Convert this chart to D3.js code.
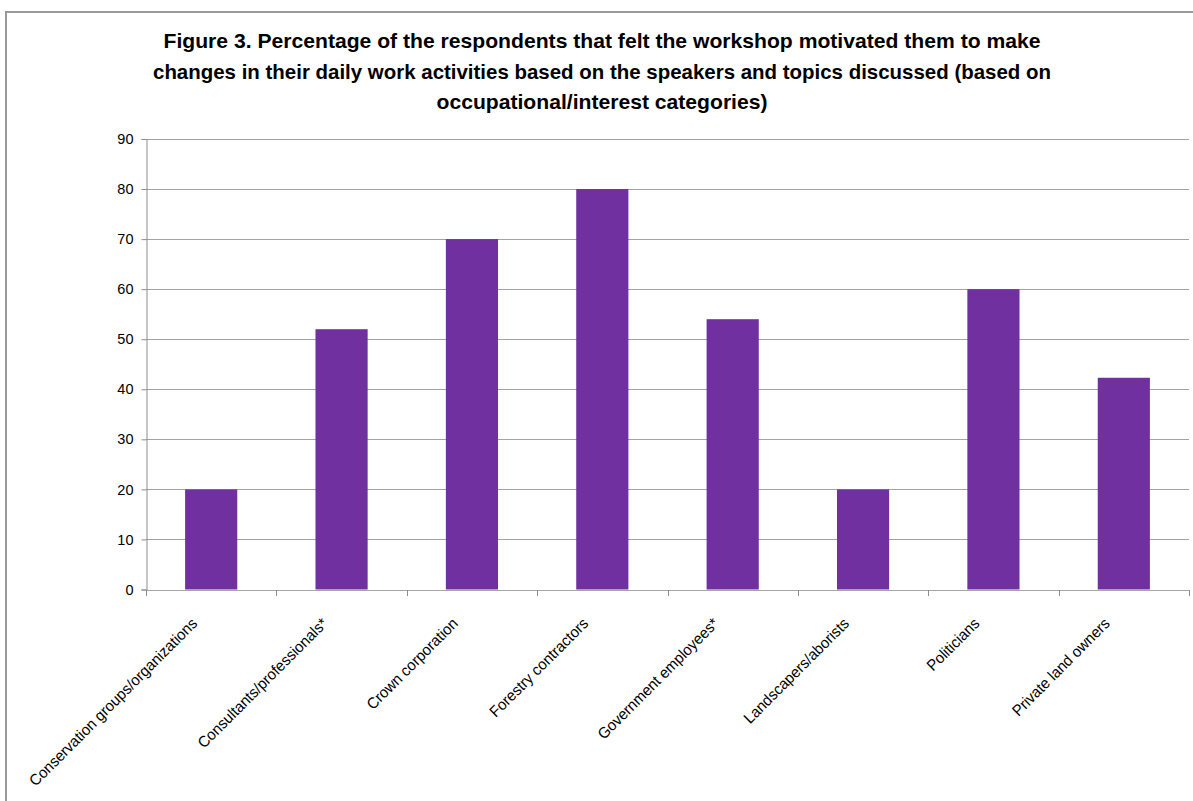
<!DOCTYPE html>
<html>
<head>
<meta charset="utf-8">
<script src="https://cdn.jsdelivr.net/npm/d3@7"></script>
<style>
  html, body { margin: 0; padding: 0; background: #fff; }
  svg { display: block; }
</style>
</head>
<body>
<svg id="chart" width="1193" height="801"></svg>
<script>
// Occupational / interest categories and the share (%) of respondents in each
const categories = [
  "Conservation groups/organizations",
  "Consultants/professionals*",
  "Crown corporation",
  "Forestry contractors",
  "Government employees*",
  "Landscapers/aborists",
  "Politicians",
  "Private land owners"
];
const percentages = [20, 52, 70, 80, 54, 20, 60, 42.3];
const yTicks = [0, 10, 20, 30, 40, 50, 60, 70, 80, 90];
const titleLines = [
  "Figure 3. Percentage of the respondents that felt the workshop motivated them to make",
  "changes in their daily work activities based on the speakers and topics discussed (based on",
  "occupational/interest categories)"
];

const W = 1193, H = 801;
const plot = { left: 146, right: 1189, top: 139, bottom: 589.5 };
const FONT = "'Liberation Sans', Arial, sans-serif";
const NARROW = 0.96; // condense glyphs a little for a Calibri-like width

const svg = d3.select("#chart");

// chart frame (top and left edges visible)
svg.append("path")
  .attr("d", `M6,${H} L6,12 L${W},12`)
  .attr("fill", "none")
  .attr("stroke", "#9a9a9a")
  .attr("stroke-width", 2);

// title: three centred bold lines, condensed to a Calibri-like width
const title = svg.append("g");
const titleY = [48, 79, 109];
const titleWidths = [877, 898, 331];
titleLines.forEach((t, i) => title.append("text")
  .attr("x", 602)
  .attr("y", titleY[i])
  .attr("text-anchor", "middle")
  .attr("font-family", FONT)
  .attr("font-weight", "bold")
  .attr("font-size", 21)
  .attr("fill", "#000")
  .attr("textLength", titleWidths[i])
  .attr("lengthAdjust", "spacingAndGlyphs")
  .text(t));

const x = d3.scaleBand()
  .domain(categories)
  .range([plot.left, plot.right])
  .paddingInner(0.6)
  .paddingOuter(0.3);

const y = d3.scaleLinear()
  .domain([0, 90])
  .range([plot.bottom, plot.top]);

// horizontal gridlines
svg.append("g")
  .selectAll("line")
  .data(yTicks.filter(d => d > 0))
  .join("line")
  .attr("x1", plot.left)
  .attr("x2", plot.right)
  .attr("y1", d => Math.round(y(d)) + 0.5)
  .attr("y2", d => Math.round(y(d)) + 0.5)
  .attr("stroke", "#a3a3a3")
  .attr("stroke-width", 1);

// bars
svg.append("g")
  .selectAll("rect")
  .data(categories.map((c, i) => ({ c, v: percentages[i] })))
  .join("rect")
  .attr("x", d => x(d.c))
  .attr("width", x.bandwidth())
  .attr("y", d => y(d.v))
  .attr("height", d => y(0) - y(d.v))
  .attr("fill", "#7030A0");

// y axis
const yAxis = svg.append("g")
  .attr("transform", `translate(${plot.left + 0.5},0)`)
  .call(d3.axisLeft(y).tickValues(yTicks).tickSize(5).tickPadding(8).tickFormat(d3.format("d")));
yAxis.select(".domain").attr("stroke", "#8c8c8c");
yAxis.selectAll(".tick line").attr("stroke", "#8c8c8c");
yAxis.selectAll(".tick text")
  .attr("font-family", FONT)
  .attr("font-size", 14.5)
  .attr("fill", "#000");

// x axis: baseline with tick marks at the category boundaries
const step = x.step();
const bounds = d3.range(categories.length + 1).map(i => plot.left + i * step);
const xAxis = svg.append("g");
xAxis.append("line")
  .attr("x1", plot.left)
  .attr("x2", plot.right)
  .attr("y1", Math.round(plot.bottom) + 0.5)
  .attr("y2", Math.round(plot.bottom) + 0.5)
  .attr("stroke", "#a6a6a6");
xAxis.selectAll("line.tick")
  .data(bounds)
  .join("line")
  .attr("class", "tick")
  .attr("x1", d => Math.round(d) + 0.5)
  .attr("x2", d => Math.round(d) + 0.5)
  .attr("y1", Math.round(plot.bottom))
  .attr("y2", Math.round(plot.bottom) + 6)
  .attr("stroke", "#8c8c8c");

// rotated category labels
xAxis.selectAll("text.cat")
  .data(categories)
  .join("text")
  .attr("class", "cat")
  .attr("font-family", FONT)
  .attr("font-size", 15.5)
  .attr("fill", "#000")
  .attr("text-anchor", "end")
  .attr("transform", d => {
    const cx = x(d) + x.bandwidth() / 2;
    return `translate(${cx - 13},${plot.bottom + 35}) rotate(-45)`;
  })
  .text(d => d)
  .each(function () {
    const len = this.getComputedTextLength();
    d3.select(this).attr("textLength", len * NARROW).attr("lengthAdjust", "spacingAndGlyphs");
  });
</script>
</body>
</html>
